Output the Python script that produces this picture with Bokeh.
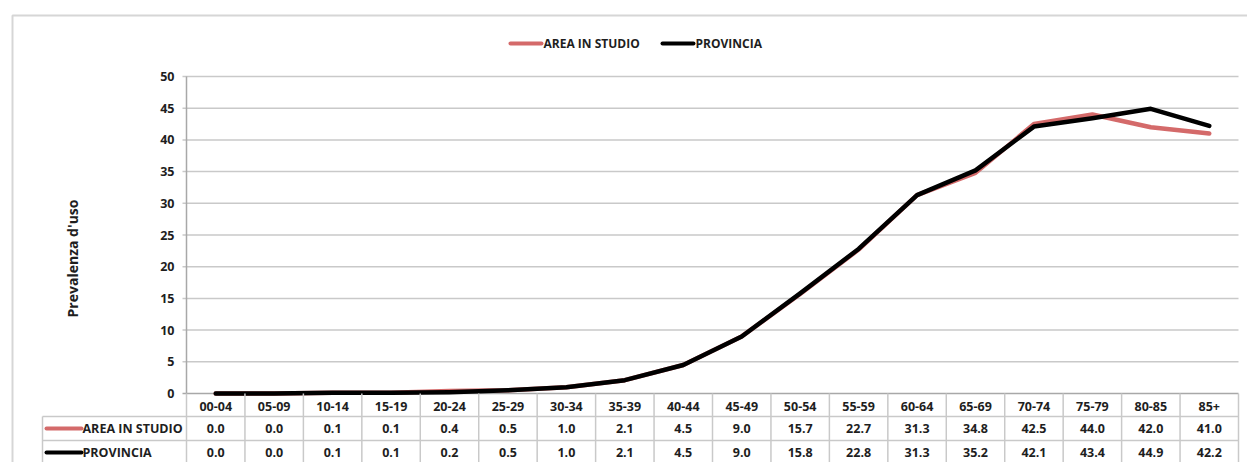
from bokeh.plotting import figure
from bokeh.models import Range1d
from bokeh.core.properties import value
from bokeh.embed import file_html
from bokeh.resources import INLINE

# ---- data ----
categories = ["00-04", "05-09", "10-14", "15-19", "20-24", "25-29", "30-34", "35-39", "40-44",
              "45-49", "50-54", "55-59", "60-64", "65-69", "70-74", "75-79", "80-85", "85+"]
area_in_studio = [0.0, 0.0, 0.1, 0.1, 0.4, 0.5, 1.0, 2.1, 4.5, 9.0, 15.7, 22.7, 31.3, 34.8, 42.5, 44.0, 42.0, 41.0]
provincia = [0.0, 0.0, 0.1, 0.1, 0.2, 0.5, 1.0, 2.1, 4.5, 9.0, 15.8, 22.8, 31.3, 35.2, 42.1, 43.4, 44.9, 42.2]
y_ticks = [0, 5, 10, 15, 20, 25, 30, 35, 40, 45, 50]
series_names = ["AREA IN STUDIO", "PROVINCIA"]
series_colors = ["#d46a6a", "#000000"]
y_label = "Prevalenza d'uso"

# ---- layout geometry (page pixels -> data units) ----
ORIG = 0                  # page position of the canvas
W, H = 1247, 462
PX = 1052 / 18.0          # pixels per category
PY = 317 / 50.0           # pixels per value unit
AX_X, AX_Y = 186, 393     # page position of (0, 0)

def X(px):
    return (px - AX_X) / PX

def Y(py):
    return (AX_Y - py) / PY

x_start = X(ORIG)
y_end = Y(ORIG)
p = figure(width=W, height=H, output_backend="svg", toolbar_location=None,
           x_range=Range1d(x_start, x_start + W / PX),
           y_range=Range1d(y_end - H / PY, y_end),
           min_border=0)
p.axis.visible = False
p.grid.visible = False
p.outline_line_color = None
p.background_fill_color = "white"

FONT = value("Open Sans")
TXT = "#1e1e1e"
GRID = "#c9c9c9"
n = len(categories)
xs = [i + 0.5 for i in range(n)]

# outer frame
p.line(x=[X(12), X(12), X(1300)], y=[Y(500), Y(15), Y(15)], line_color="#d6d6d6", line_width=2)

# horizontal gridlines + tick marks
gt = [t for t in y_ticks if t > 0]
p.segment(x0=[X(182)] * len(gt), x1=[n] * len(gt), y0=gt, y1=gt, line_color=GRID, line_width=1.5)
# x axis line (value 0)
p.segment(x0=[X(182)], x1=[n], y0=[0], y1=[0], line_color="#a8a8a8", line_width=1.5)
# y axis line
p.segment(x0=[0], x1=[0], y0=[0], y1=[max(y_ticks)], line_color="#a8a8a8", line_width=1.5)

# y tick labels
p.text(x=[X(174)] * len(y_ticks), y=y_ticks, text=[str(t) for t in y_ticks],
       text_font=FONT, text_font_style="bold", text_font_size="12.5px", text_color=TXT,
       text_align="right", text_baseline="middle")

# y axis label
p.text(x=[X(72)], y=[Y(258)], text=[y_label], angle=1.5708,
       text_font=FONT, text_font_style="bold", text_font_size="14px", text_color=TXT,
       text_align="center", text_baseline="middle")

# series lines
for vals, col in zip([area_in_studio, provincia], series_colors):
    p.line(x=xs, y=vals, line_color=col, line_width=4.5, line_join="round", line_cap="round")

# ---- data table ----
row_mid = [406, 428, 452]
bottom = 480
# vertical lines for category columns
p.segment(x0=list(range(n + 1)), x1=list(range(n + 1)), y0=[Y(393)] * (n + 1), y1=[Y(bottom)] * (n + 1),
          line_color=GRID, line_width=1.5)
# horizontal lines
p.segment(x0=[X(42), X(42)], x1=[n, n], y0=[Y(416), Y(440)], y1=[Y(416), Y(440)],
          line_color=GRID, line_width=1.5)
# left column border
p.segment(x0=[X(42)], x1=[X(42)], y0=[Y(416)], y1=[Y(bottom)], line_color=GRID, line_width=1.5)

# header labels
p.text(x=xs, y=[Y(row_mid[0])] * n, text=categories,
       text_font=FONT, text_font_style="bold", text_font_size="12.5px", text_color=TXT,
       text_align="center", text_baseline="middle")
# values
for r, vals in enumerate([area_in_studio, provincia]):
    p.text(x=xs, y=[Y(row_mid[r + 1])] * n, text=["%.1f" % v for v in vals],
           text_font=FONT, text_font_style="bold", text_font_size="12.5px", text_color=TXT,
           text_align="center", text_baseline="middle")
    # row legend key
    p.segment(x0=[X(46)], x1=[X(81)], y0=[Y(row_mid[r + 1])], y1=[Y(row_mid[r + 1])],
              line_color=series_colors[r], line_width=4, line_cap="round")
    p.text(x=[X(82)], y=[Y(row_mid[r + 1])], text=[series_names[r]],
           text_font=FONT, text_font_style="bold", text_font_size="12.5px", text_color=TXT,
           text_align="left", text_baseline="middle")

# ---- top legend ----
leg_y = Y(43)
leg_keys = [(510, 541, 543), (662, 693, 695)]
for (k0, k1, tx), name, col in zip(leg_keys, series_names, series_colors):
    p.segment(x0=[X(k0)], x1=[X(k1)], y0=[leg_y], y1=[leg_y], line_color=col, line_width=4, line_cap="round")
    p.text(x=[X(tx)], y=[leg_y], text=[name],
           text_font=FONT, text_font_style="bold", text_font_size="12px", text_color=TXT,
           text_align="left", text_baseline="middle")

open("out.html", "w").write(file_html(p, INLINE))
